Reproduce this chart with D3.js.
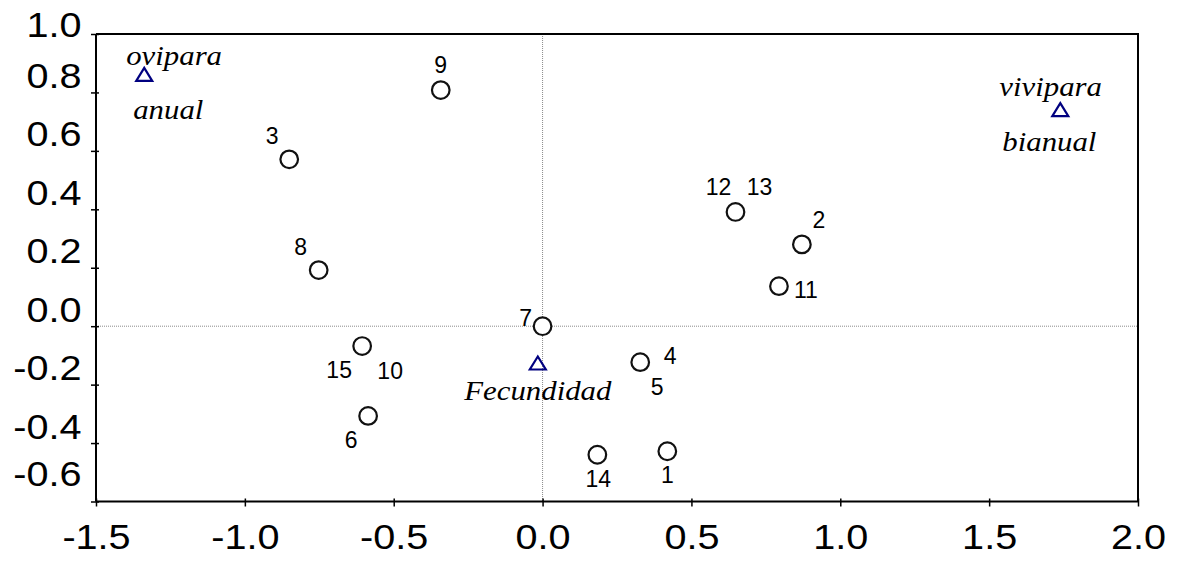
<!DOCTYPE html>
<html>
<head>
<meta charset="utf-8">
<script src="https://cdn.jsdelivr.net/npm/d3@7"></script>
<style>
  html, body { margin: 0; padding: 0; background: #fff; }
  svg { display: block; }
</style>
</head>
<body>
<svg id="chart" width="1177" height="562"></svg>
<script>
// Species scores (ordination axes 1 and 2)
const speciesIds = ["1", "2", "3", "4", "5", "6", "7", "8", "9", "10", "11", "12", "13", "14", "15"];
const speciesX = [0.419, 0.871, -0.851, 0.328, 0.328, -0.586, 0.000, -0.752, -0.342, -0.606, 0.794, 0.648, 0.648, 0.184, -0.606];
const speciesY = [-0.428, 0.280, 0.571, -0.123, -0.123, -0.307, 0.000, 0.192, 0.808, -0.068, 0.137, 0.391, 0.391, -0.440, -0.068];

// Trait centroids
const traitNames = [["ovipara", "anual"], ["vivipara", "bianual"], ["Fecundidad"]];
const traitX = [-1.338, 1.739, -0.016];
const traitY = [0.862, 0.741, -0.126];

// Axis ticks
const xTicks = [-1.5, -1.0, -0.5, 0.0, 0.5, 1.0, 1.5, 2.0];
const yTicks = [-0.6, -0.4, -0.2, 0.0, 0.2, 0.4, 0.6, 0.8, 1.0];

// Label placement around each species marker (dx, baseline dy)
const speciesLabelOffset = {
  "1": [0, 32], "2": [17, -16], "3": [-17, -15], "4": [30, 2], "5": [17, 33],
  "6": [-17, 32], "7": [-17, 0], "8": [-18, -15], "9": [0, -17], "10": [28, 33],
  "11": [27, 12], "12": [-17, -17], "13": [24, -17], "14": [1, 32], "15": [-23, 32]
};
// Label placement around trait markers (left edge dx, baseline dy), one per line
const traitLabelOffset = [
  [[-18, -9], [-11, 45]],
  [[-61, -13.5], [-58, 41]],
  [[-73.5, 37]]
];

const svg = d3.select("#chart");
const plotLeft = 96, plotRight = 1138, plotTop = 34, plotBottom = 501.5;

const x = d3.scaleLinear().domain([-1.5, 2.0]).range([plotLeft, plotRight]);
const y = d3.scaleLinear().domain([-0.6, 1.0]).range([plotBottom, plotTop]);

// One decimal, plain hyphen for negatives
const fmt = d => (Math.abs(d) < 1e-9 ? 0 : d).toFixed(1);
const sans = "'Liberation Sans', Arial, Helvetica, sans-serif";
const serif = "'Liberation Serif', 'Times New Roman', serif";
const stretch = 1.1;

// Zero reference lines
svg.append("line")
  .attr("x1", plotLeft).attr("x2", plotRight)
  .attr("y1", y(0)).attr("y2", y(0))
  .attr("stroke", "#8a8a8a").attr("stroke-width", 1).attr("stroke-dasharray", "1,1");
svg.append("line")
  .attr("x1", x(0)).attr("x2", x(0))
  .attr("y1", plotTop).attr("y2", plotBottom)
  .attr("stroke", "#8a8a8a").attr("stroke-width", 1).attr("stroke-dasharray", "1,1");

// Frame: top and right edges
svg.append("path")
  .attr("d", `M${plotLeft},${plotTop}H${plotRight}V${plotBottom}`)
  .attr("fill", "none").attr("stroke", "#000").attr("stroke-width", 2);

// Bottom axis
const gx = svg.append("g")
  .attr("transform", `translate(0,${plotBottom})`)
  .call(d3.axisBottom(x).tickValues(xTicks).tickFormat(fmt).tickSizeOuter(0));
gx.select(".domain").attr("stroke-width", 2).attr("d", `M${plotLeft},0H${plotRight}`);
gx.selectAll(".tick line").attr("y1", -3).attr("y2", 5).attr("stroke-width", 1.5);
gx.selectAll(".tick text")
  .attr("font-family", sans).attr("font-size", 36).attr("fill", "#000")
  .attr("y", 0).attr("dy", null)
  .attr("transform", `translate(0,47.5) scale(${stretch},1)`);

// Left axis
const gy = svg.append("g")
  .attr("transform", `translate(${plotLeft},0)`)
  .call(d3.axisLeft(y).tickValues(yTicks).tickFormat(fmt).tickSizeOuter(0));
gy.select(".domain").attr("stroke-width", 2).attr("d", `M0,${plotTop}V${plotBottom}`);
gy.selectAll(".tick line").attr("x1", 3).attr("x2", -5).attr("stroke-width", 1.5);
gy.selectAll(".tick text")
  .attr("font-family", sans).attr("font-size", 36).attr("fill", "#000")
  .attr("x", 0).attr("dy", null)
  .attr("transform", d => {
    const ty = y(d);
    const base = Math.min(Math.max(ty - 5, plotTop + 2), plotBottom - 16.5);
    return `translate(-14.5,${base - ty}) scale(${stretch},1)`;
  });
svg.selectAll(".domain").attr("stroke", "#000");
svg.selectAll(".tick line").attr("stroke", "#000");

// Species markers (coincident scores share one circle)
const species = speciesIds.map((id, i) => ({ id, x: speciesX[i], y: speciesY[i] }));
const uniquePts = Array.from(d3.group(species, d => d.x + "|" + d.y).values(), g => g[0]);

svg.append("g").selectAll("circle")
  .data(uniquePts)
  .join("circle")
  .attr("cx", d => x(d.x))
  .attr("cy", d => y(d.y))
  .attr("r", 8.8)
  .attr("fill", "#fff")
  .attr("stroke", "#111")
  .attr("stroke-width", 2.2);

svg.append("g").selectAll("text")
  .data(species)
  .join("text")
  .attr("x", d => x(d.x) + speciesLabelOffset[d.id][0])
  .attr("y", d => y(d.y) + speciesLabelOffset[d.id][1])
  .attr("text-anchor", "middle")
  .attr("font-family", sans)
  .attr("font-size", 23)
  .attr("fill", "#000")
  .text(d => d.id);

// Trait markers
const triW = 16, triH = 13;
const traits = traitNames.map((names, i) => ({ names, x: traitX[i], y: traitY[i], off: traitLabelOffset[i] }));

svg.append("g").selectAll("path")
  .data(traits)
  .join("path")
  .attr("d", d => {
    const cx = x(d.x), cy = y(d.y);
    return `M${cx},${cy - triH / 2}L${cx + triW / 2},${cy + triH / 2}L${cx - triW / 2},${cy + triH / 2}Z`;
  })
  .attr("fill", "none")
  .attr("stroke", "#000080")
  .attr("stroke-width", 2.2)
  .attr("stroke-linejoin", "miter");

const traitLabels = traits.flatMap(t => t.names.map((name, j) => ({ name, x: t.x, y: t.y, off: t.off[j] })));
svg.append("g").selectAll("text")
  .data(traitLabels)
  .join("text")
  .attr("transform", d => `translate(${x(d.x) + d.off[0]},${y(d.y) + d.off[1]}) scale(${stretch},1)`)
  .attr("font-family", serif)
  .attr("font-style", "italic")
  .attr("font-size", 28)
  .attr("fill", "#000")
  .text(d => d.name);
</script>
</body>
</html>
